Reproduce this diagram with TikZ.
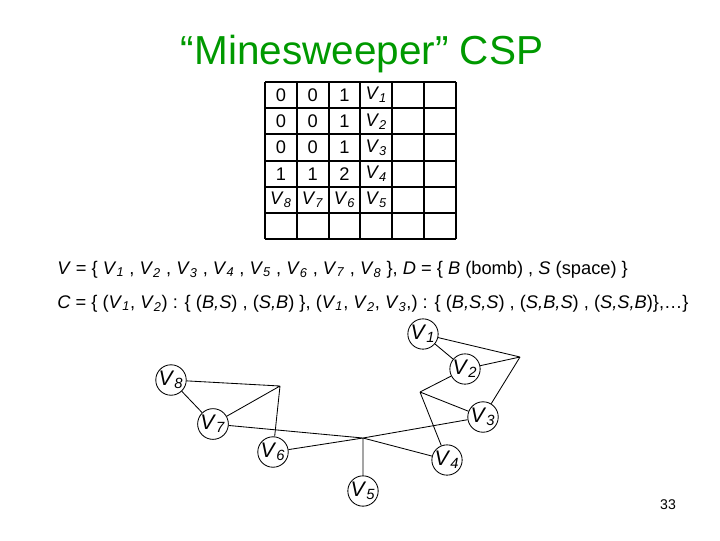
\documentclass[tikz,border=0pt]{standalone}
\usepackage{fontspec}
\setmainfont{Liberation Sans}
\usetikzlibrary{positioning}
\definecolor{titlegreen}{HTML}{009900}
\newcommand{\vv}[1]{\textit{V}\textsubscript{\textit{#1}}}

\begin{document}
\begin{tikzpicture}[x=0.025cm,y=-0.025cm,
    var/.style={draw,circle,line width=0.6pt,minimum size=0.75cm,inner sep=0pt,
                font=\fontsize{15}{18}\selectfont},
    link/.style={line width=0.6pt},
    cell/.style={font=\fontsize{13}{15}\selectfont},
    txt/.style={anchor=base west,inner sep=0pt,font=\fontsize{13}{16}\selectfont}]
  \useasboundingbox (0,0) rectangle (720,540);
  \node[titlegreen,anchor=base,font=\fontsize{28.8}{34}\selectfont] (title) at (362,64)
    {“Minesweeper” CSP};
  \begin{scope}[shift={(265,82)},x=0.795cm,y=-0.655cm]
    \foreach \i in {0,...,6} {
      \draw[line width=1.4pt] (\i,0) -- (\i,6);
      \draw[line width=1.4pt] (0,\i) -- (6,\i);
    }
    \foreach \r/\a/\b/\c/\d in {1/0/0/1/\vv{1},2/0/0/1/\vv{2},3/0/0/1/\vv{3},
                                4/1/1/2/\vv{4},5/\vv{8}/\vv{7}/\vv{6}/\vv{5}} {
      \node[cell] (c\r-1) at (0.5,\r-0.5) {\a};
      \node[cell] (c\r-2) at (1.5,\r-0.5) {\b};
      \node[cell] (c\r-3) at (2.5,\r-0.5) {\c};
      \node[cell] (c\r-4) at (3.5,\r-0.5) {\d};
    }
  \end{scope}
  \node[txt] (vars) at (57,274)
    {\textit{V} = \{ \vv{1} , \vv{2} , \vv{3} , \vv{4} , \vv{5} , \vv{6} , \vv{7} , \vv{8} \},
     \textit{D} = \{ \textit{B} (bomb) , \textit{S} (space) \}};
  \node[txt] (cons) at (57,308)
    {\textit{C} = \{ (\vv{1}, \vv{2}) : \{ (\textit{B,S}) , (\textit{S,B}) \},
     (\vv{1}, \vv{2}, \vv{3},) : \{ (\textit{B,S,S}) , (\textit{S,B,S}) , (\textit{S,S,B})\},…\}};
  \node[var] (v1) at (423,334) {\vv{1}};
  \node[var] (v2) at (465,369) {\vv{2}};
  \node[var] (v3) at (483,417) {\vv{3}};
  \node[var] (v4) at (447,460) {\vv{4}};
  \node[var] (v5) at (363,491) {\vv{5}};
  \node[var] (v6) at (273,452) {\vv{6}};
  \node[var] (v7) at (213,424) {\vv{7}};
  \node[var] (v8) at (171,380) {\vv{8}};
  \coordinate (h1) at (520,357);
  \coordinate (h2) at (420,392);
  \coordinate (h3) at (280,386);
  \coordinate (h4) at (363,438);
  \draw[link] (v1) -- (v2) (v1) -- (h1) (v2) -- (h1) (v3) -- (h1);
  \draw[link] (v2) -- (h2) (v3) -- (h2) (v4) -- (h2);
  \draw[link] (v8) -- (v7) (v8) -- (h3) (v7) -- (h3) (v6) -- (h3);
  \draw[link] (v7) -- (h4) (v6) -- (h4) (v5) -- (h4) (v4) -- (h4) (v3) -- (h4);
  \node[font=\fontsize{10}{12}\selectfont] (page) at (668,505) {33};
\end{tikzpicture}
\end{document}
